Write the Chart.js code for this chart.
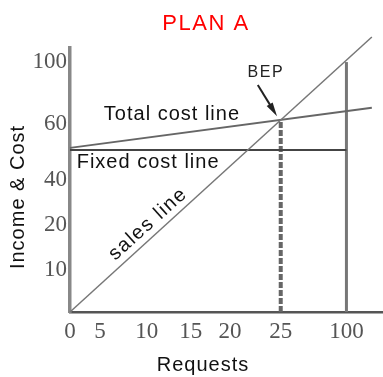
<!DOCTYPE html>
<html>
  <head>
    <script src="https://cdn.jsdelivr.net/npm/chart.js"></script>
    <title>Plan A</title>
    <style>
      body {
        margin: 0;
        background-color: white;
      }
      .wrap {
        position: relative;
        width: 383px;
        height: 377px;
      }
    </style>
  </head>
  <body>
    <div class="wrap"><canvas id="myChart"></canvas></div>
    <script>
      // Axis labels (the axes are schematic, so each label has its own slot)
      var xTickLabels = ['0', '5', '10', '15', '20', '25', '100'];
      var xTickPos = [0, 0.97, 2.48, 3.9, 5.16, 6.8, 8.92];
      var yTickLabels = ['10', '20', '40', '60', '100'];
      var yTickPos = [0.95, 1.98, 3.0, 4.27, 5.68];

      // Lines
      var salesX = [0, 9.74];
      var salesY = [0, 6.25];
      var totalCostX = [0, 9.74];
      var totalCostY = [3.73, 4.64];
      var fixedCostX = [0, 8.92];
      var fixedCostY = [3.68, 3.68];
      var bepX = [6.8, 6.8];
      var bepY = [0, 4.36];
      var maxX = [8.92, 8.92];
      var maxY = [0, 5.68];

      function pts(xs, ys) {
        var out = [];
        for (var i = 0; i < xs.length; i++) {
          out.push({ x: xs[i], y: ys[i] });
        }
        return out;
      }

      // Free text, arrow and title drawn on top
      var notes = {
        id: 'notes',
        afterDatasetsDraw: function(chart) {
          var ctx = chart.ctx;
          var x = chart.scales.x;
          var y = chart.scales.y;
          ctx.save();
          ctx.textAlign = 'center';
          ctx.textBaseline = 'middle';

          ctx.fillStyle = '#f00';
          ctx.letterSpacing = '1.5px';
          ctx.font = '22px "Liberation Sans", Arial, sans-serif';
          ctx.fillText('PLAN A', 206, 24);

          ctx.fillStyle = '#111';
          ctx.letterSpacing = '1px';
          ctx.font = '20px "Liberation Sans", Arial, sans-serif';
          ctx.fillText('Total cost line', x.getPixelForValue(3.29), y.getPixelForValue(4.48));
          ctx.fillText('Fixed cost line', x.getPixelForValue(2.52), y.getPixelForValue(3.39));

          ctx.save();
          ctx.letterSpacing = '1.5px';
          ctx.translate(x.getPixelForValue(2.52), y.getPixelForValue(2.0));
          ctx.rotate(-42 * Math.PI / 180);
          ctx.fillText('sales line', 0, 0);
          ctx.restore();

          ctx.font = '16px "Liberation Sans", Arial, sans-serif';
          ctx.letterSpacing = '1.5px';
          ctx.fillStyle = '#222';
          ctx.fillText('BEP', x.getPixelForValue(6.32), y.getPixelForValue(5.45));

          // arrow to BEP
          var ax0 = x.getPixelForValue(6.06), ay0 = y.getPixelForValue(5.16);
          var ax1 = x.getPixelForValue(6.68), ay1 = y.getPixelForValue(4.45);
          var ang = Math.atan2(ay1 - ay0, ax1 - ax0);
          ctx.strokeStyle = '#222';
          ctx.lineWidth = 2;
          ctx.beginPath();
          ctx.moveTo(ax0, ay0);
          ctx.lineTo(ax1 - 8 * Math.cos(ang), ay1 - 8 * Math.sin(ang));
          ctx.stroke();
          ctx.beginPath();
          ctx.moveTo(ax1, ay1);
          ctx.lineTo(ax1 - 14 * Math.cos(ang) + 3.5 * Math.sin(ang), ay1 - 14 * Math.sin(ang) - 3.5 * Math.cos(ang));
          ctx.lineTo(ax1 - 14 * Math.cos(ang) - 3.5 * Math.sin(ang), ay1 - 14 * Math.sin(ang) + 3.5 * Math.cos(ang));
          ctx.closePath();
          ctx.fill();

          // axis titles
          ctx.fillStyle = '#111';
          ctx.letterSpacing = '1px';
          ctx.font = '20px "Liberation Sans", Arial, sans-serif';
          ctx.fillText('Requests', 203, 365);
          ctx.save();
          ctx.translate(18, 197);
          ctx.rotate(-Math.PI / 2);
          ctx.fillText('Income & Cost', 0, 0);
          ctx.restore();

          ctx.restore();
        }
      };

      var ctx = document.getElementById('myChart').getContext('2d');
      var chart = new Chart(ctx, {
        type: 'scatter',
        data: {
          datasets: [
            { label: 'Sales', data: pts(salesX, salesY), borderColor: '#777', borderWidth: 1.5 },
            { label: 'Total cost', data: pts(totalCostX, totalCostY), borderColor: '#666', borderWidth: 2 },
            { label: 'Fixed cost', data: pts(fixedCostX, fixedCostY), borderColor: '#444', borderWidth: 2 },
            { label: 'BEP', data: pts(bepX, bepY), borderColor: '#666', borderWidth: 4, borderDash: [6, 2] },
            { label: '100', data: pts(maxX, maxY), borderColor: '#777', borderWidth: 3 }
          ]
        },
        options: {
          responsive: true,
          maintainAspectRatio: false,
          animation: false,
          showLine: true,
          clip: false,
          elements: { point: { radius: 0 } },
          layout: { padding: { top: 48, right: 0, left: 0, bottom: 0 } },
          plugins: {
            legend: { display: false },
            tooltip: { enabled: false }
          },
          scales: {
            x: {
              type: 'linear',
              min: 0,
              max: 10.1,
              grid: { display: false, drawTicks: false },
              border: { color: '#555', width: 2.5 },
              afterBuildTicks: function(scale) {
                scale.ticks = xTickPos.map(function(v) { return { value: v }; });
              },
              afterFit: function(scale) { scale.height = 65; },
              ticks: {
                padding: 6,
                color: '#555',
                font: { family: '"Liberation Serif", serif', size: 23 },
                maxRotation: 0,
                autoSkip: false,
                callback: function(value, index) { return xTickLabels[index]; }
              }
            },
            y: {
              type: 'linear',
              min: 0,
              max: 6,
              grid: { display: false, drawTicks: false },
              border: { color: '#888', width: 3.5 },
              afterBuildTicks: function(scale) {
                scale.ticks = yTickPos.map(function(v) { return { value: v }; });
              },
              afterFit: function(scale) { scale.width = 70; },
              ticks: {
                padding: 3,
                color: '#555',
                font: { family: '"Liberation Serif", serif', size: 23 },
                autoSkip: false,
                callback: function(value, index) { return yTickLabels[index]; }
              }
            }
          }
        },
        plugins: [notes]
      });
    </script>
  </body>
</html>
